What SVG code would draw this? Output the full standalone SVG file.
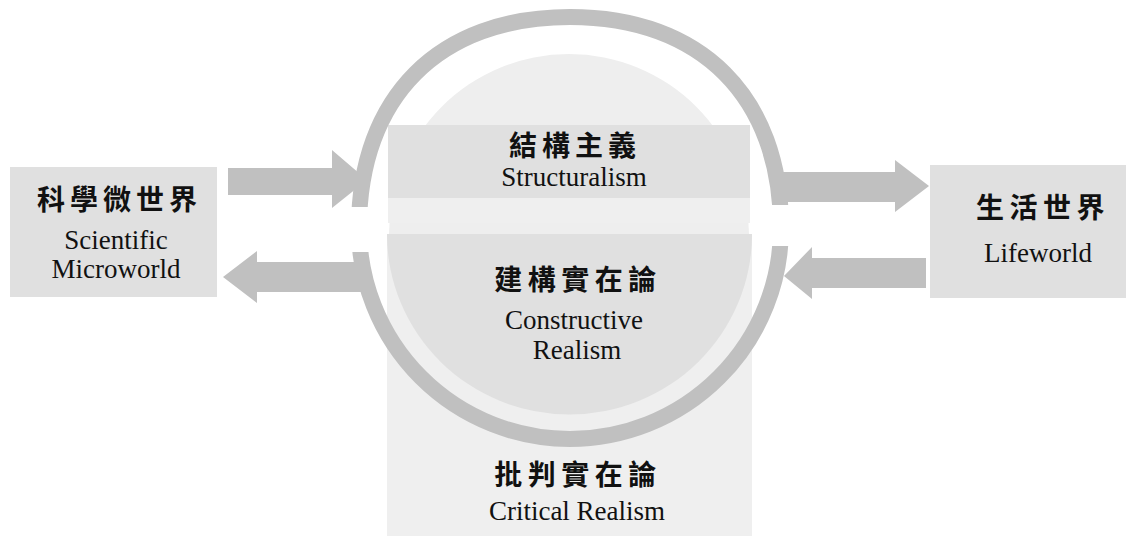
<svg xmlns="http://www.w3.org/2000/svg" width="1130" height="536" viewBox="0 0 1130 536">
<style>
.box{fill:#e0e0e0}
.arrow{fill:#c0c0c0}
.cjk{font-family:"Noto Sans CJK TC","Noto Sans CJK SC",sans-serif;font-size:28px;font-weight:700;fill:#111;text-anchor:middle}
.lat{font-family:"Liberation Serif","Times New Roman",serif;font-size:27px;fill:#111;text-anchor:middle}
</style>
<defs>
<clipPath id="ringGap">
<path clip-rule="evenodd" d="M0,0H1130V536H0Z M328,207H386V252H328Z M753,205H814V246H753Z"/>
</clipPath>
<clipPath id="critClip"><rect x="387" y="234" width="365" height="302"/></clipPath>
</defs>
<rect width="1130" height="536" fill="#ffffff"/>

<g id="critical-realism">
<rect x="387" y="234" width="365" height="302" fill="#efefef"/>
</g>
<g id="constructive-realism">
<path d="M569,54 A180,180 0 0 1 749,234 H389 A180,180 0 0 1 569,54 Z" fill="#eeeeee"/>
<path d="M387,234 H752 A182,180 0 0 1 387,234 Z" fill="#e0e0e0" clip-path="url(#critClip)"/>
</g>
<g id="structuralism">
<rect x="388" y="198" width="362" height="25" fill="#efefef"/>
<rect class="box" x="388" y="125" width="362" height="73"/>
</g>
<g id="scientific-microworld">
<rect class="box" x="10" y="167" width="207" height="130"/>
</g>
<g id="lifeworld">
<rect class="box" x="930" y="165" width="196" height="133"/>
</g>

<g id="connectors">
<path d="M359,228 C359,97 439,17 570,17 C701,17 781,97 781,228 A211,211 0 0 1 359,228 Z" fill="none" stroke="#c0c0c0" stroke-width="16" clip-path="url(#ringGap)"/>
<polygon class="arrow" points="228,168 332,168 332,150 367,180 332,208 332,195 228,195"/>
<polygon class="arrow" points="364,262 257,262 257,251 223,277 257,303 257,292 364,292"/>
<polygon class="arrow" points="779,172 895,172 895,160 929,186 895,212 895,202 779,202"/>
<polygon class="arrow" points="926,258 812,258 812,247 784,276 812,299 812,288 926,288"/>
</g>

<g id="labels">
<text class="cjk" x="119.5" y="210" letter-spacing="5">科學微世界</text>
<text class="lat" x="116" y="249">Scientific</text>
<text class="lat" x="116" y="278">Microworld</text>
<text class="cjk" x="1043" y="218" letter-spacing="5.5">生活世界</text>
<text class="lat" x="1038" y="262">Lifeworld</text>
<text class="cjk" x="575" y="156" letter-spacing="5">結構主義</text>
<text class="lat" x="574" y="186">Structuralism</text>
<text class="cjk" x="578" y="290" letter-spacing="5.5">建構實在論</text>
<text class="lat" x="574" y="329">Constructive</text>
<text class="lat" x="577" y="359">Realism</text>
<text class="cjk" x="578" y="485" letter-spacing="5.5">批判實在論</text>
<text class="lat" x="577" y="520">Critical Realism</text>
</g>
</svg>
